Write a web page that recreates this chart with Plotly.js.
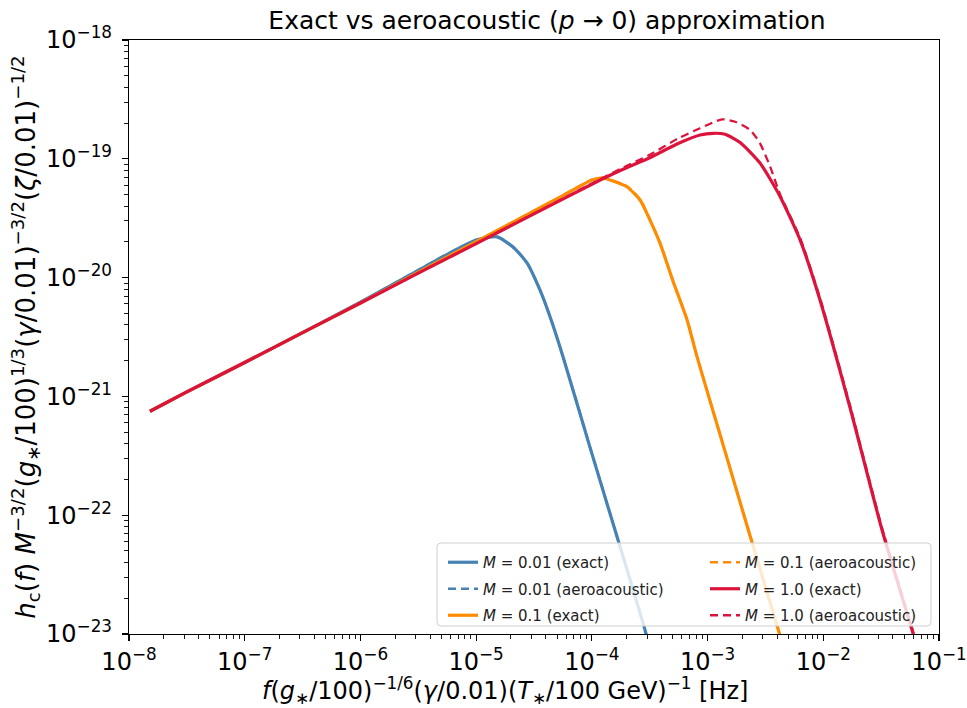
<!DOCTYPE html>
<html>
<head>
<meta charset="utf-8">
<script src="https://cdn.plot.ly/plotly-3.0.1.min.js"></script>
<style>html,body{margin:0;padding:0;background:#fff;}#chart{width:967px;height:708px;}</style>
</head>
<body>
<div id="chart"></div>
<script>
// ---- Data (frequency in Hz, h_c scaled) ----
const fBlueExact = [1.52e-8, 3.16e-8, 1e-7, 3.16e-7, 1e-6, 3.16e-6, 5.62e-6, 1e-5, 1.517e-5, 2.08e-5, 2.75e-5, 3.56e-5, 4.36e-5, 5.64e-5, 9.64e-5, 1.585e-4, 2.88e-4, 3.31e-4];
const hBlueExact = [7.5e-22, 1.09e-21, 1.93e-21, 3.44e-21, 6.22e-21, 1.15e-20, 1.57e-20, 2.07e-20, 2.20e-20, 1.81e-20, 1.33e-20, 7.87e-21, 4.66e-21, 2.15e-21, 3.72e-22, 7.5e-23, 1.08e-23, 6.3e-24];

const fBlueAero = [1.52e-8, 3.16e-8, 1e-7, 3.16e-7, 1e-6, 3.16e-6, 5.62e-6, 1e-5, 1.517e-5, 2.08e-5, 2.75e-5, 3.56e-5, 4.36e-5, 5.64e-5, 9.64e-5, 1.585e-4, 2.88e-4, 3.31e-4];
const hBlueAero = [7.5e-22, 1.09e-21, 1.93e-21, 3.44e-21, 6.24e-21, 1.16e-20, 1.58e-20, 2.08e-20, 2.21e-20, 1.82e-20, 1.34e-20, 7.9e-21, 4.68e-21, 2.16e-21, 3.74e-22, 7.55e-23, 1.09e-23, 6.35e-24];

const fOrangeExact = [1.52e-8, 3.16e-8, 1e-7, 3.16e-7, 1e-6, 3.16e-6, 1e-5, 3.16e-5, 5.62e-5, 1e-4, 1.25e-4, 1.585e-4, 2.01e-4, 2.61e-4, 3.18e-4, 3.88e-4, 5.04e-4, 6.65e-4, 8.11e-4, 1.28e-3, 2.25e-3, 4.09e-3, 4.47e-3];
const hOrangeExact = [7.5e-22, 1.09e-21, 1.93e-21, 3.44e-21, 6.11e-21, 1.11e-20, 2.01e-20, 3.64e-20, 4.90e-20, 6.64e-20, 6.89e-20, 6.41e-20, 5.82e-20, 4.50e-20, 3.05e-20, 1.95e-20, 9.27e-21, 4.40e-21, 2.15e-21, 4.79e-22, 7.5e-23, 1.08e-23, 7.9e-24];

const fOrangeAero = [1.52e-8, 3.16e-8, 1e-7, 3.16e-7, 1e-6, 3.16e-6, 1e-5, 3.16e-5, 5.62e-5, 1e-4, 1.25e-4, 1.585e-4, 2.01e-4, 2.61e-4, 3.18e-4, 3.88e-4, 5.04e-4, 6.65e-4, 8.11e-4, 1.28e-3, 2.25e-3, 4.09e-3, 4.47e-3];
const hOrangeAero = [7.5e-22, 1.09e-21, 1.93e-21, 3.44e-21, 6.11e-21, 1.11e-20, 2.01e-20, 3.65e-20, 4.92e-20, 6.68e-20, 6.95e-20, 6.47e-20, 5.88e-20, 4.55e-20, 3.08e-20, 1.97e-20, 9.36e-21, 4.44e-21, 2.17e-21, 4.84e-22, 7.6e-23, 1.09e-23, 8.0e-24];

const fRedExact = [1.52e-8, 3.16e-8, 1e-7, 3.16e-7, 1e-6, 3.16e-6, 1e-5, 3.16e-5, 1e-4, 1.78e-4, 3.16e-4, 5.62e-4, 8.61e-4, 1.117e-3, 1.416e-3, 1.91e-3, 2.84e-3, 4.24e-3, 6.31e-3, 9.38e-3, 1.706e-2, 3.22e-2, 5.85e-2, 6.31e-2];
const hRedExact = [7.5e-22, 1.09e-21, 1.93e-21, 3.44e-21, 6.11e-21, 1.09e-20, 1.93e-20, 3.44e-20, 6.11e-20, 8.0e-20, 1.02e-19, 1.35e-19, 1.585e-19, 1.64e-19, 1.61e-19, 1.37e-19, 9.2e-20, 4.8e-20, 2.07e-20, 6.45e-21, 7.98e-22, 7.5e-23, 1.08e-23, 8.4e-24];

const fRedAero = [1.52e-8, 3.16e-8, 1e-7, 3.16e-7, 1e-6, 3.16e-6, 1e-5, 3.16e-5, 1e-4, 1.78e-4, 3.16e-4, 5.62e-4, 8.61e-4, 1.334e-3, 1.73e-3, 2.33e-3, 2.84e-3, 3.47e-3, 4.24e-3, 6.31e-3, 9.38e-3, 1.706e-2, 3.22e-2, 5.85e-2, 6.31e-2];
const hRedAero = [7.5e-22, 1.09e-21, 1.93e-21, 3.44e-21, 6.11e-21, 1.09e-20, 1.93e-20, 3.46e-20, 6.2e-20, 8.25e-20, 1.08e-19, 1.49e-19, 1.81e-19, 2.15e-19, 2.05e-19, 1.75e-19, 1.35e-19, 8.6e-20, 5.0e-20, 2.15e-20, 6.7e-21, 8.3e-22, 7.8e-23, 1.12e-23, 8.7e-24];

const seriesNames = [
  '<i>M</i> = 0.01 (exact)', '<i>M</i> = 0.01 (aeroacoustic)', '<i>M</i> = 0.1 (exact)',
  '<i>M</i> = 0.1 (aeroacoustic)', '<i>M</i> = 1.0 (exact)', '<i>M</i> = 1.0 (aeroacoustic)'
];
const xTickVals = [1e-8, 1e-7, 1e-6, 1e-5, 1e-4, 1e-3, 1e-2, 1e-1];
const xTickText = ['10<sup>−8</sup>', '10<sup>−7</sup>', '10<sup>−6</sup>', '10<sup>−5</sup>', '10<sup>−4</sup>', '10<sup>−3</sup>', '10<sup>−2</sup>', '10<sup>−1</sup>'];
const yTickVals = [1e-23, 1e-22, 1e-21, 1e-20, 1e-19, 1e-18];
const yTickText = ['10<sup>−23</sup>', '10<sup>−22</sup>', '10<sup>−21</sup>', '10<sup>−20</sup>', '10<sup>−19</sup>', '10<sup>−18</sup>'];
const titleText = 'Exact vs aeroacoustic (<i>p</i> → 0) approximation';
const xTitleText = '<i>f</i>(<i>g</i><sub>∗</sub>/100)<sup>−1/6</sup>(<i>γ</i>/0.01)(<i>T</i><sub>∗</sub>/100 GeV)<sup>−1</sup> [Hz]';
const yTitleText = '<i>h</i><sub>c</sub>(<i>f</i>) <i>M</i><sup>−3/2</sup>(<i>g</i><sub>∗</sub>/100)<sup>1/3</sup>(<i>γ</i>/0.01)<sup>−3/2</sup>(<i>ζ</i>/0.01)<sup>−1/2</sup>';

// ---- Styles ----
const C_BLUE = '#4682b4', C_ORANGE = '#ff8c00', C_RED = '#dc143c';
const SOLID_W = 3.2, DASH_W = 2.3, DASH = '8px,5px';
const FONT = 'DejaVu Sans, Verdana, sans-serif';

function tr(x, y, name, color, dashed, legend) {
  return {
    x: x, y: y, name: name, type: 'scatter', mode: 'lines',
    line: {color: color, width: dashed ? DASH_W : SOLID_W, dash: dashed ? DASH : 'solid', shape: 'spline', smoothing: 0.6},
    legend: legend, legendgroup: name, hoverinfo: 'x+y+name'
  };
}

const data = [
  tr(fBlueExact, hBlueExact, seriesNames[0], C_BLUE, false, 'legend'),
  tr(fBlueAero, hBlueAero, seriesNames[1], C_BLUE, true, 'legend'),
  tr(fOrangeExact, hOrangeExact, seriesNames[2], C_ORANGE, false, 'legend'),
  tr(fOrangeAero, hOrangeAero, seriesNames[3], C_ORANGE, true, 'legend2'),
  tr(fRedExact, hRedExact, seriesNames[4], C_RED, false, 'legend2'),
  tr(fRedAero, hRedAero, seriesNames[5], C_RED, true, 'legend2')
];

// plot area in px
const W = 967, H = 708, L = 129, R = 28, T = 40, B = 74;
const PW = W - L - R, PH = H - T - B;
function px2x(px) { return (px - L) / PW; }
function py2y(py) { return (H - B - py) / PH; }

// rounded legend frame (paper coords)
const bx0 = px2x(437), bx1 = px2x(931), by0 = py2y(626), by1 = py2y(543);
const rx = 4 / PW, ry = 4 / PH;
const framePath = `M ${bx0 + rx},${by0} L ${bx1 - rx},${by0} Q ${bx1},${by0} ${bx1},${by0 + ry} ` +
  `L ${bx1},${by1 - ry} Q ${bx1},${by1} ${bx1 - rx},${by1} L ${bx0 + rx},${by1} Q ${bx0},${by1} ${bx0},${by1 - ry} ` +
  `L ${bx0},${by0 + ry} Q ${bx0},${by0} ${bx0 + rx},${by0} Z`;

const axisCommon = {
  type: 'log', showgrid: false, zeroline: false,
  showline: true, linecolor: '#000', linewidth: 1.2, mirror: true,
  ticks: 'outside', ticklen: 6, tickwidth: 1.1, tickcolor: '#000',
  tickfont: {family: FONT, size: 24, color: '#000'},
  minor: {ticks: 'outside', dtick: 'D1', ticklen: 3.5, tickwidth: 0.9, tickcolor: '#000', showgrid: false},
  automargin: false
};

const layout = {
  width: W, height: H,
  margin: {l: L, r: R, t: T, b: B, pad: 0},
  paper_bgcolor: '#fff', plot_bgcolor: '#fff',
  font: {family: FONT, color: '#000'},
  title: {
    text: titleText,
    font: {family: FONT, size: 25, color: '#000'},
    x: px2x(547), xref: 'paper', xanchor: 'center', y: 1 - 20 / H, yref: 'container', yanchor: 'middle'
  },
  xaxis: Object.assign({}, axisCommon, {
    range: [-8, -1], tickvals: xTickVals, ticktext: xTickText
  }),
  yaxis: Object.assign({}, axisCommon, {
    range: [-23, -18], tickvals: yTickVals, ticktext: yTickText, ticklabelstandoff: 5,
    title: {text: yTitleText, font: {family: FONT, size: 26, color: '#000'}}
  }),
  annotations: [{
    text: xTitleText, xref: 'paper', yref: 'paper',
    x: px2x(505), y: py2y(690), xanchor: 'center', yanchor: 'middle',
    showarrow: false, font: {family: FONT, size: 24, color: '#000'}
  }],
  showlegend: true,
  legend: {
    x: px2x(443), xanchor: 'left', y: py2y(546), yanchor: 'top',
    bgcolor: 'rgba(0,0,0,0)', borderwidth: 0, tracegroupgap: 4,
    font: {family: FONT, size: 15, color: '#222'}
  },
  legend2: {
    x: px2x(705), xanchor: 'left', y: py2y(546), yanchor: 'top',
    bgcolor: 'rgba(0,0,0,0)', borderwidth: 0, tracegroupgap: 4,
    font: {family: FONT, size: 15, color: '#222'}
  },
  shapes: [{
    type: 'path', xref: 'paper', yref: 'paper', path: framePath,
    fillcolor: 'rgba(255,255,255,0.8)', line: {color: '#d0d0d0', width: 1}, layer: 'above'
  }]
};

Plotly.newPlot('chart', data, layout, {displayModeBar: false, staticPlot: true});
</script>
</body>
</html>
